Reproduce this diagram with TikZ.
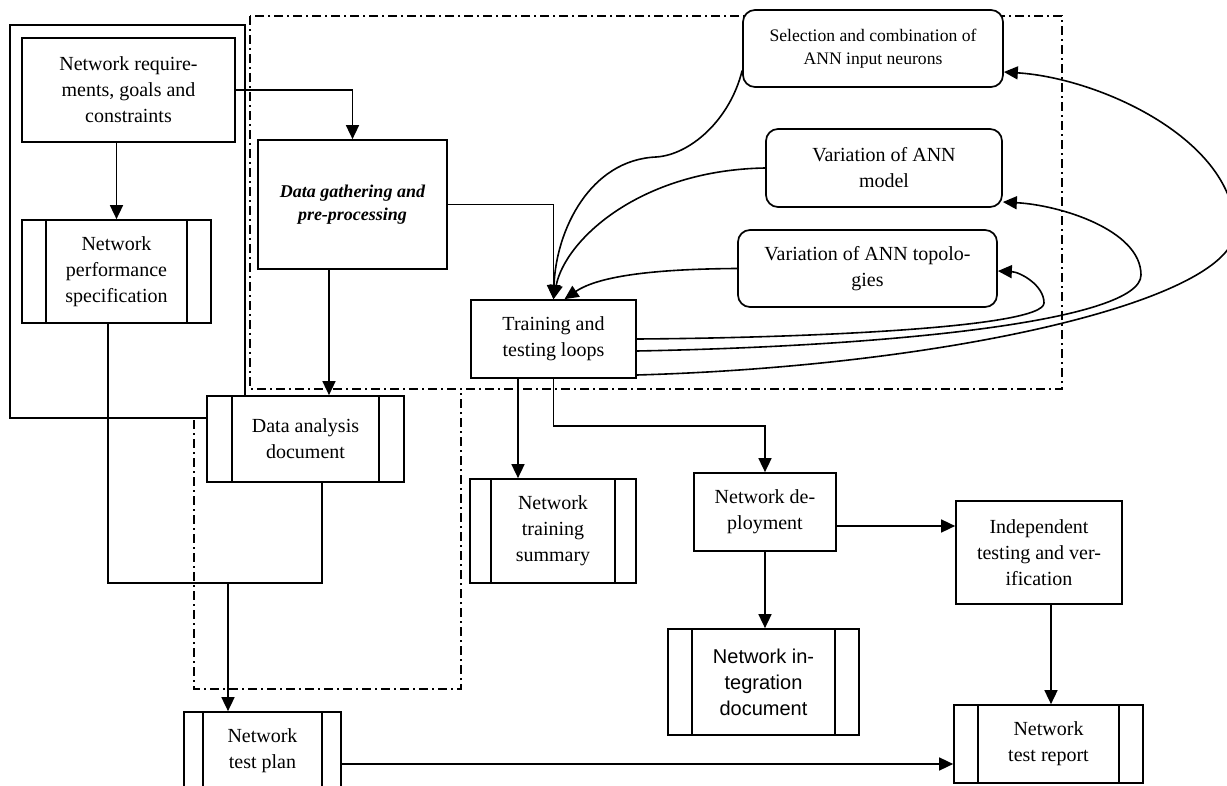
\documentclass[tikz,border=0pt]{standalone}
\usepackage{fontspec}
\setmainfont{Liberation Serif}
\newfontfamily\arialfont{Liberation Sans}
\usetikzlibrary{arrows.meta}

\begin{document}
\begin{tikzpicture}
  [x=1pt,y=-1pt,
   every node/.style={font=\fontsize{20}{26}\selectfont,align=center,inner sep=2pt},
   box/.style={draw,line width=1.7pt,fill=white},
   docbox/.style={box,path picture={
       \draw[line width=1.7pt]
         ([xshift=#1]path picture bounding box.north west) -- ([xshift=#1]path picture bounding box.south west)
         ([xshift=-#1]path picture bounding box.north east) -- ([xshift=-#1]path picture bounding box.south east);}},
   docbox/.default=24pt,
   annbox/.style={box,rounded corners=12pt},
   arr/.style={-{Triangle[length=14pt,width=13pt]},line width=1.6pt},
   frame/.style={line width=1.6pt,dash pattern=on 9pt off 4pt on 2pt off 4pt}]
  \useasboundingbox (0,0) rectangle (1227,786);

  % groupings
  \draw[frame] (250,16) rectangle (1062,389);
  \draw[frame] (194,420) -- (194,689) -- (461,689) -- (461,389);
  \draw[line width=2.4pt] (10,25) rectangle (245,418);

  \node[box,minimum width=213pt,minimum height=104pt] (req) at (128.5,90) {Network require-\\ments, goals and\\constraints};
  \node[docbox,minimum width=189pt,minimum height=103pt] (perf) at (116.5,271.5) {Network\\performance\\specification};
  \node[box,minimum width=189pt,minimum height=129pt,font=\fontsize{18}{23}\selectfont\bfseries\itshape] (gather) at (352.5,204.5) {Data gathering and\\pre-processing};
  \node[docbox=25pt,minimum width=197pt,minimum height=86pt] (anal) at (305.5,439) {Data analysis\\document};
  \node[box,minimum width=165pt,minimum height=78pt] (train) at (553.5,339) {Training and\\testing loops};
  \node[annbox,minimum width=260pt,minimum height=77pt,font=\fontsize{17.6}{23}\selectfont] (inputs) at (873,48.5) {Selection and combination of\\ANN input neurons};
  \node[annbox,minimum width=236pt,minimum height=78pt] (model) at (884,168) {Variation of ANN\\model};
  \node[annbox,minimum width=259pt,minimum height=77pt] (topo) at (867.5,268.5) {Variation of ANN topolo-\\gies};
  \node[docbox=21pt,minimum width=166pt,minimum height=104pt] (summary) at (553,531) {Network\\training\\summary};
  \node[box,minimum width=142pt,minimum height=78pt] (deploy) at (765,512) {Network de-\\ployment};
  \node[docbox,minimum width=191pt,minimum height=106pt,font=\fontsize{20}{26}\selectfont\arialfont] (integ) at (763.5,682) {Network in-\\tegration\\document};
  \node[box,minimum width=166pt,minimum height=103pt] (indep) at (1039,552.5) {Independent\\testing and ver-\\ification};
  \node[docbox,minimum width=189pt,minimum height=78pt] (report) at (1048.5,744) {Network\\test report};
  \node[docbox=19pt,minimum width=157pt,minimum height=78pt] (plan) at (262.5,751) {Network\\test plan};
  \coordinate (merge) at (228,583);

  % flow
  \draw[arr] (req.south -| perf.north) -- (perf.north);
  \draw[arr] (req.east) -| (gather.north);
  \draw[arr] ([xshift=-23.5pt]gather.south) -- ([xshift=-23.5pt]gather.south |- anal.north);
  \draw[arr] (gather.east) -| (train.north);
  \draw[line width=1.6pt] ([xshift=-8.5pt]perf.south) |- ([xshift=16.5pt]anal.south |- merge) -- ([xshift=16.5pt]anal.south);
  \draw[arr] (merge) -- (merge |- plan.north);
  \draw[arr] ([xshift=-35.5pt]train.south) -- ([xshift=-35.5pt]train.south |- summary.north);
  \draw[arr] (train.south) -- ++(0,47) -| (deploy.north);
  \draw[arr] (deploy.south) -- (deploy.south |- integ.north);
  \draw[arr] ([yshift=-14pt]deploy.east) -- ([yshift=-14pt]deploy.east -| indep.west);
  \draw[arr] ([xshift=12pt]indep.south) -- ([xshift=12pt]indep.south |- report.north);
  \draw[arr] ([yshift=-13pt]plan.east) -- ([yshift=-13pt]plan.east -| report.west);

  % loops
  \draw[arr] ([yshift=-22pt]inputs.west) .. controls (730,120) and (690,155) .. (656,157)
    .. controls (590,160) and (556,230) .. (train.north);
  \draw[arr] (model.west) .. controls (640,170) and (565,240) .. (train.north);
  \draw[arr] (topo.west) .. controls (660,269) and (600,275) .. ([xshift=11pt]train.north);
  \draw[arr] (train.east) .. controls (800,338) and (1044,328) .. (1044,303)
    .. controls (1044,285) and (1020,272) .. ([yshift=-2.5pt]topo.east);
  \draw[arr] ([yshift=-12pt]train.east) .. controls (900,346) and (1141,320) .. (1141,275)
    .. controls (1141,230) and (1060,205) .. ([yshift=-34pt]model.east);
  \draw[arr] ([yshift=-36pt]train.east) .. controls (950,366) and (1235,300) .. (1235,230)
    .. controls (1235,140) and (1100,78) .. ([yshift=-23.5pt]inputs.east);
\end{tikzpicture}
\end{document}
